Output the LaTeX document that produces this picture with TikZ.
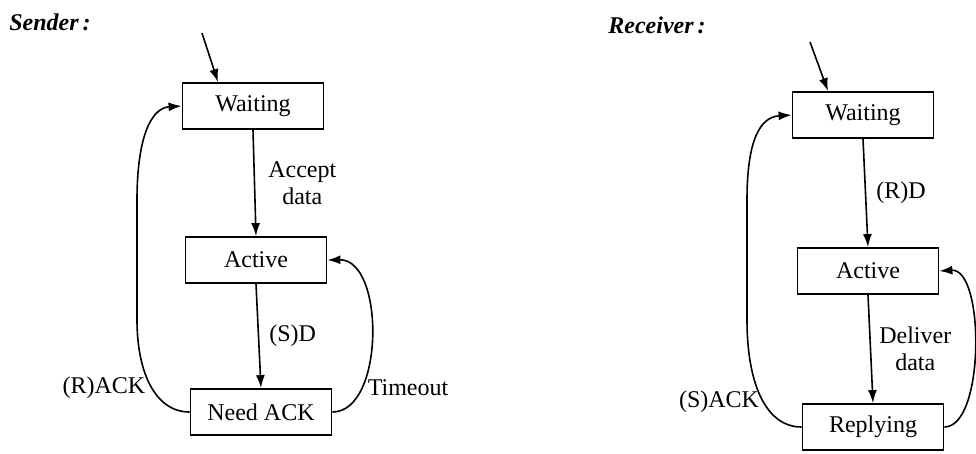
\documentclass[tikz,border=0pt]{standalone}
\usepackage{fontspec}
\setmainfont{Liberation Serif}
\usetikzlibrary{arrows.meta}
\begin{document}
\begin{tikzpicture}[x=1pt,y=-1pt,
  font=\fontsize{24}{27}\selectfont,
  state/.style={draw, line width=1.8pt, minimum width=141pt, minimum height=46pt, inner sep=0pt},
  flow/.style={line width=1.6pt, -{Latex[length=13pt,width=9pt]}},
  lbl/.style={inner sep=0pt, align=center},
  hdr/.style={inner sep=0pt, font=\fontsize{24}{27}\selectfont\bfseries\itshape}]
\useasboundingbox[fill=white] (0,0) rectangle (976,453);

% ---------- Sender ----------
\node[hdr] (shdr) at (50,22) {Sender\,:};
\node[state] (sw) at (253,106) {Waiting};
\node[state] (sa) at (256,260) {Active};
\node[state] (sn) at (261,412) {Need ACK};
\coordinate (sstart) at (202,33);

\draw[flow] (sstart) -- (sw.north west -| 218,0);
\draw[flow] (sw.south) -- (sa.north) node[lbl, midway, right=13pt] (lacc) {Accept\\data};
\draw[flow] (sa.south) -- (sn.north) node[lbl, midway, right=10pt] (lsd) {(S)D};
\draw[flow] (sn.west) .. controls (155,412) and (137,372) .. (137,320)
  -- (137,200) .. controls (137,140) and (150,108) .. (sw.west);
\draw[flow] (sn.east) .. controls (385,412) and (385,259) .. (sa.east);
\node[lbl] (lrack) at (104,388) {(R)ACK};
\node[lbl] (ltime) at (408,388) {Timeout};

% ---------- Receiver ----------
\node[hdr] (rhdr) at (657,25) {Receiver\,:};
\node[state] (rw) at (863,115) {Waiting};
\node[state] (ra) at (868,271) {Active};
\node[state] (rr) at (873,427) {Replying};
\coordinate (rstart) at (810,42);

\draw[flow] (rstart) -- (rw.north west -| 828,0);
\draw[flow] (rw.south) -- (ra.north) node[lbl, midway, right=10pt] (lrd) {(R)D};
\draw[flow] (ra.south) -- (rr.north) node[lbl, midway, right=8pt] (ldel) {Deliver\\data};
\draw[flow] (rr.west) .. controls (765,427) and (747,382) .. (747,320)
  -- (747,200) .. controls (747,140) and (760,117) .. (rw.west);
\draw[flow] (rr.east) .. controls (985,427) and (985,268) .. (ra.east);
\node[lbl] (lsack) at (719,402) {(S)ACK};
\end{tikzpicture}
\end{document}
